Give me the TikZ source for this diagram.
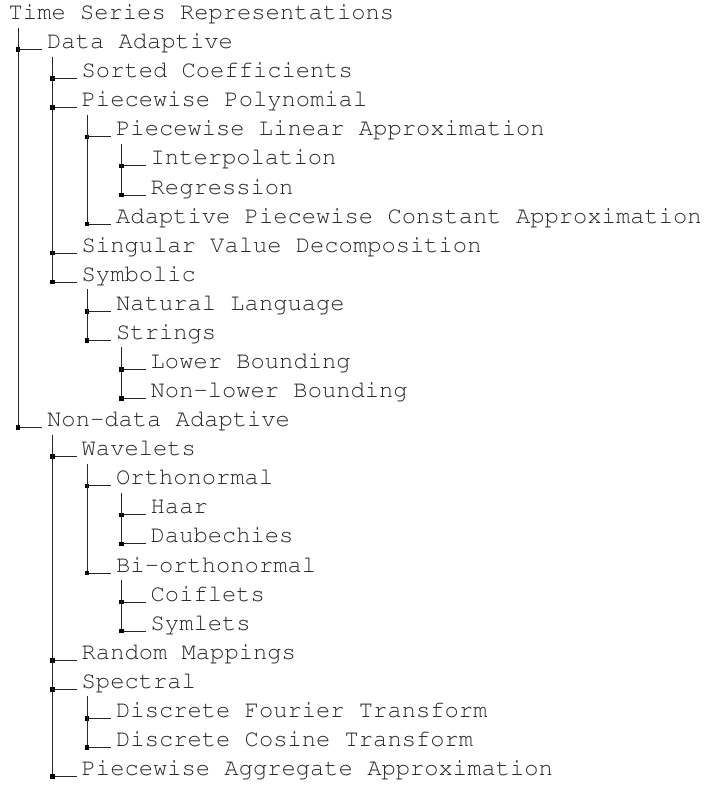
\documentclass[tikz,border=0pt]{standalone}
\usepackage[T1]{fontenc}
\usepackage{courier}
\usetikzlibrary{calc}

\begin{document}
\begin{tikzpicture}
  [x=1pt,y=1pt,every node/.style={anchor=base west,inner sep=0pt,
   font=\fontfamily{pcr}\fontsize{23.8}{28}\selectfont,text=black!85}]
  \useasboundingbox (0,0) rectangle (705,-787);
  \node (root) at (8.5,-19.5) {Time Series Representations};
  \node (da)   at (47,-48.6)    {Data Adaptive};
  \node (sc)   at (81.5,-77.7)  {Sorted Coefficients};
  \node (pp)   at (81.5,-106.7) {Piecewise Polynomial};
  \node (pla)  at (116,-135.8)  {Piecewise Linear Approximation};
  \node (ip)   at (150.5,-164.9) {Interpolation};
  \node (rg)   at (150.5,-194.0) {Regression};
  \node (apca) at (116,-223.1)  {Adaptive Piecewise Constant Approximation};
  \node (svd)  at (81.5,-252.1) {Singular Value Decomposition};
  \node (sym)  at (81.5,-281.2) {Symbolic};
  \node (nl)   at (116,-310.3)  {Natural Language};
  \node (str)  at (116,-339.4)  {Strings};
  \node (lb)   at (150.5,-368.5) {Lower Bounding};
  \node (nlb)  at (150.5,-397.5) {Non-lower Bounding};
  \node (nda)  at (47,-426.6)    {Non-data Adaptive};
  \node (wav)  at (81.5,-455.7) {Wavelets};
  \node (orth) at (116,-484.8)  {Orthonormal};
  \node (haar) at (150.5,-513.9) {Haar};
  \node (daub) at (150.5,-542.9) {Daubechies};
  \node (bio)  at (116,-572.0)  {Bi-orthonormal};
  \node (coif) at (150.5,-601.1) {Coiflets};
  \node (syml) at (150.5,-630.2) {Symlets};
  \node (rm)   at (81.5,-659.3) {Random Mappings};
  \node (spec) at (81.5,-688.3) {Spectral};
  \node (dft)  at (116,-717.4)  {Discrete Fourier Transform};
  \node (dct)  at (116,-746.5)  {Discrete Cosine Transform};
  \node (paa)  at (81.5,-775.6) {Piecewise Aggregate Approximation};
  \foreach \dad/\kid in {root/da,da/sc,da/pp,pp/pla,pla/ip,pla/rg,pp/apca,
      da/svd,da/sym,sym/nl,sym/str,str/lb,str/nlb,root/nda,nda/wav,wav/orth,
      orth/haar,orth/daub,wav/bio,bio/coif,bio/syml,nda/rm,nda/spec,spec/dft,
      spec/dct,nda/paa}
    \draw[line width=0.9pt,black!85] let \p1=(\kid.base west), \p2=(\dad.base) in
      (\x1-29pt,\y2-8pt) |- (\x1-5pt,\y1-1pt)
      (\x1-29pt,\y1-1pt) node[fill=black,minimum size=4.5pt,anchor=center] {};
\end{tikzpicture}
\end{document}
